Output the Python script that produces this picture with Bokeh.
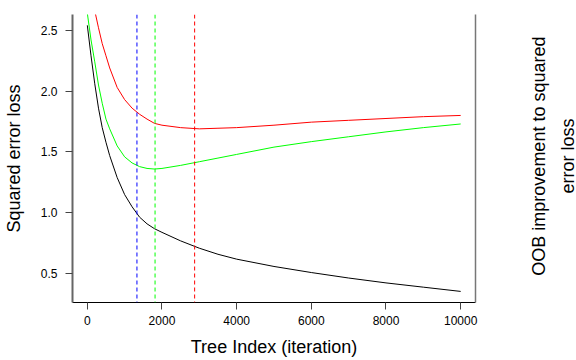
import math
from bokeh.plotting import figure
from bokeh.layouts import row
from bokeh.models import Range1d, LinearAxis, FixedTicker, Span, PrintfTickFormatter
from bokeh.core.properties import value
from bokeh.embed import file_html
from bokeh.resources import INLINE

# Iterations (tree index) at which curves were read
iters = [1, 100, 200, 300, 400, 500, 600, 800, 1000, 1200, 1400, 1600, 1800,
         2000, 2500, 3000, 3500, 4000, 5000, 6000, 7000, 8000, 9000, 10000]
# Training error (black)
train_err = [2.54, 2.29, 2.06, 1.86, 1.70, 1.58, 1.47, 1.29, 1.15, 1.05, 0.965, 0.91,
             0.87, 0.84, 0.77, 0.71, 0.66, 0.62, 0.56, 0.51, 0.465, 0.425, 0.39, 0.355]
# Test/validation error (green)
valid_err = [2.64, 2.42, 2.24, 2.05, 1.90, 1.77, 1.69, 1.55, 1.46, 1.41, 1.38, 1.365,
             1.36, 1.365, 1.39, 1.42, 1.45, 1.48, 1.54, 1.585, 1.625, 1.665, 1.70, 1.73]
# CV error (red)
cv_err = [3.05, 2.82, 2.66, 2.52, 2.39, 2.29, 2.19, 2.03, 1.93, 1.86, 1.81, 1.77,
          1.735, 1.72, 1.70, 1.69, 1.695, 1.70, 1.72, 1.745, 1.76, 1.775, 1.79, 1.80]
# Best iterations
best_oob = 1330
best_test = 1815
best_cv = 2875

x_ticks = [0, 2000, 4000, 6000, 8000, 10000]
y_ticks = [0.5, 1.0, 1.5, 2.0, 2.5]
right_title_text = "OOB improvement to squared\nerror loss"

FONT = "Liberation Sans"
TITLE_SIZE = "18px"

p = figure(width=490, height=360, output_backend="svg", toolbar_location=None,
           x_range=Range1d(-396, 10397), y_range=Range1d(0.264, 2.629),
           min_border_left=72, min_border_right=15, min_border_top=14,
           min_border_bottom=58, background_fill_color="white",
           border_fill_color="white", outline_line_color=None)
p.grid.visible = False

p.line(iters, train_err, line_color="black", line_width=1)
p.line(iters, cv_err, line_color="#FF0000", line_width=1)
p.line(iters, valid_err, line_color="#00FF00", line_width=1)

for xv, col in [(best_oob, "#0000FF"), (best_test, "#00FF00"), (best_cv, "#FF0000")]:
    p.add_layout(Span(location=xv, dimension="height", line_color=col,
                      line_width=1, line_dash="4 3"))

xa = p.xaxis[0]
xa.ticker = FixedTicker(ticks=x_ticks)
xa.axis_label = "Tree Index (iteration)"
xa.axis_line_color = "black"
xa.major_tick_out = 7
xa.major_tick_in = 0
xa.minor_tick_out = 0
xa.minor_tick_in = 0
xa.major_tick_line_color = "#444444"
xa.major_label_standoff = 6
xa.axis_label_standoff = 9
xa.major_label_text_font = FONT
xa.major_label_text_font_size = "12px"
xa.major_label_text_color = "black"
xa.axis_label_text_font = FONT
xa.axis_label_text_font_size = TITLE_SIZE
xa.axis_label_text_font_style = "normal"
xa.axis_label_text_color = "black"

ya = p.yaxis[0]
ya.ticker = FixedTicker(ticks=y_ticks)
ya.formatter = PrintfTickFormatter(format="%.1f")
ya.axis_label = "Squared error loss"
ya.axis_line_color = "#666666"
ya.axis_line_width = 2
ya.major_tick_out = 7
ya.major_tick_in = 0
ya.minor_tick_out = 0
ya.minor_tick_in = 0
ya.major_tick_line_color = "#444444"
ya.major_label_orientation = "horizontal"
ya.major_label_standoff = 8
ya.axis_label_standoff = 14
ya.major_label_text_font = FONT
ya.major_label_text_font_size = "12px"
ya.major_label_text_color = "black"
ya.axis_label_text_font = FONT
ya.axis_label_text_font_size = TITLE_SIZE
ya.axis_label_text_font_style = "normal"
ya.axis_label_text_color = "black"

ra = LinearAxis(ticker=FixedTicker(ticks=[]))
ra.axis_line_color = "#777777"
ra.axis_line_width = 1.5
ra.major_tick_out = 0
ra.major_tick_in = 0
ra.minor_tick_out = 0
ra.minor_tick_in = 0
ra.major_label_standoff = 0
p.add_layout(ra, "right")

# Narrow side panel holding the right-hand axis title
p2 = figure(width=86, height=360, output_backend="svg", toolbar_location=None,
            x_range=Range1d(0, 86), y_range=Range1d(0, 360),
            min_border=0, outline_line_color=None,
            background_fill_color="white", border_fill_color="white")
p2.axis.visible = False
p2.grid.visible = False
p2.text(x=[62.5], y=[183], text=[right_title_text], angle=math.pi / 2,
        text_align="center", text_baseline="middle",
        text_font=value(FONT), text_font_size=TITLE_SIZE, text_color="black",
        text_line_height=1.45)

layout = row(p, p2, spacing=0)
open("out.html", "w").write(file_html(layout, INLINE))
